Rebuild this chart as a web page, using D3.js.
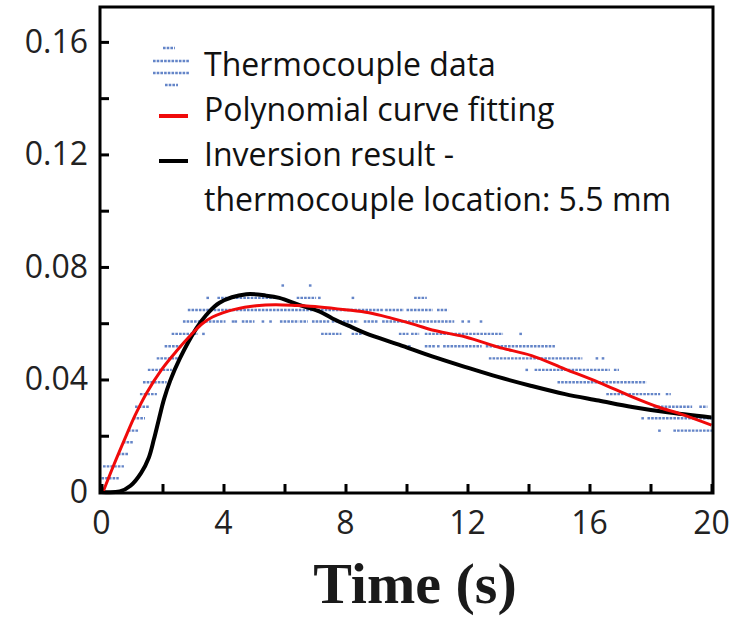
<!DOCTYPE html>
<html>
<head>
<meta charset="utf-8">
<script src="https://cdn.jsdelivr.net/npm/d3@7"></script>
<style>
  body { margin: 0; background: #fff; }
  svg { display: block; }
</style>
</head>
<body>
<svg id="chart" width="739" height="617"></svg>
<script>
// tick labels
let xTicks = [0, 4, 8, 12, 16, 20];
let xMinor = [0, 2, 4, 6, 8, 10, 12, 14, 16, 18, 20];
let yTicks = [0, 0.04, 0.08, 0.12, 0.16];
let yMinor = [0, 0.02, 0.04, 0.06, 0.08, 0.1, 0.12, 0.14, 0.16];

// thermocouple readings sit on discrete levels
let tcLevels = [0, 0.0049, 0.0091, 0.0135, 0.0177, 0.0218, 0.0262, 0.0303, 0.0348,
    0.039, 0.0434, 0.0475, 0.0518, 0.0562, 0.0606, 0.0647, 0.069, 0.0734];
// runs of samples: [level index, start time, end time]
let tcRuns = [
    [1, 0.0, 0.5], [2, 0.05, 0.67], [3, 0.54, 0.83], [4, 0.7, 0.96],
    [5, 0.87, 1.16], [5, 18.25, 18.3], [5, 18.75, 20],
    [6, 1.03, 1.36], [6, 17.7, 17.75], [6, 17.9, 19.95],
    [7, 1.1, 1.52], [7, 18.1, 19.3], [7, 19.6, 19.8],
    [8, 1.26, 1.75], [8, 16.55, 18.25], [8, 18.5, 18.6],
    [9, 1.36, 2.07], [9, 14.95, 17.8],
    [10, 1.52, 2.24], [10, 13.9, 13.95], [10, 14.2, 16.6], [10, 16.8, 16.9],
    [11, 1.81, 2.5], [11, 12.7, 15.7], [11, 16.2, 16.25], [11, 16.4, 16.45],
    [12, 2.07, 2.56], [12, 10.05, 10.1], [12, 10.6, 10.9], [12, 11.0, 11.05],
    [12, 11.2, 12.4], [12, 12.6, 14.8],
    [13, 2.3, 3.1], [13, 3.3, 3.35], [13, 7.2, 7.8], [13, 8.2, 8.5], [13, 9.75, 10.0],
    [13, 10.15, 10.35], [13, 10.6, 13.1], [13, 13.7, 13.75],
    [14, 2.67, 4.0], [14, 4.27, 4.3], [14, 4.36, 4.4], [14, 4.6, 4.95], [14, 5.25, 5.3],
    [14, 5.5, 5.55], [14, 5.85, 6.4], [14, 6.5, 6.7], [14, 6.9, 7.4], [14, 7.55, 8.35],
    [14, 8.6, 9.0], [14, 9.2, 11.5], [14, 11.8, 11.85], [14, 12.0, 12.05], [14, 12.4, 12.45],
    [15, 2.83, 9.2], [15, 9.3, 9.85], [15, 10.0, 10.8], [15, 11.0, 11.3],
    [16, 3.44, 3.48], [16, 3.8, 5.8], [16, 6.4, 6.97], [16, 7.1, 7.15], [16, 8.2, 8.25],
    [16, 10.25, 10.6],
    [17, 5.9, 5.95], [17, 6.8, 6.85]
];

// polynomial curve fitting
let fitTime = [0.05, 0.4, 0.75, 1.1, 1.48, 1.97, 2.46, 2.99, 3.3, 3.64, 4.4, 5.07, 5.7, 6.4,
    7.14, 8, 8.77, 9.5, 10.3, 10.84, 11.94, 13.0, 14.1, 15.2, 16.3, 17.4, 18.25, 19.0, 20];
let fitValue = [0, 0.0095, 0.0185, 0.0272, 0.0352, 0.0435, 0.0501, 0.0565, 0.0598, 0.0622,
    0.065, 0.0662, 0.0666, 0.0663, 0.0658, 0.0648, 0.0637, 0.0618, 0.0594, 0.0576, 0.0551,
    0.0515, 0.0485, 0.0437, 0.039, 0.0338, 0.0302, 0.0277, 0.0238];

// inversion result at 5.5 mm
let invTime = [0, 0.6, 0.95, 1.3, 1.55, 1.72, 1.88, 2.05, 2.25, 2.57, 3.1, 3.44, 3.87, 4.75,
    5.4, 5.83, 6.5, 7.14, 7.57, 8.2, 8.67, 9.75, 10.84, 11.94, 13.0, 14.1, 15.2, 16.3, 17.4,
    18.5, 20];
let invValue = [0, 0.0002, 0.0022, 0.0068, 0.0122, 0.0188, 0.0258, 0.033, 0.0395, 0.0475, 0.058,
    0.063, 0.0673, 0.0703, 0.0698, 0.069, 0.0664, 0.0642, 0.0617, 0.0586, 0.0564, 0.0524,
    0.0482, 0.0444, 0.0409, 0.0377, 0.0348, 0.0325, 0.0302, 0.0284, 0.0265];

let legendItems = ["Thermocouple data", "Polynomial curve fitting", "Inversion result -",
    "thermocouple location: 5.5 mm"];

let svg = d3.select("#chart");
let box = {left: 100, right: 713, top: 7, bottom: 493};
let tcColor = "#4a70bf";

let x = d3.scaleLinear().domain([0, 20]).range([101.5, 711.5]);
let y = d3.scaleLinear().domain([0, 0.1724]).range([492, 7]);

// thermocouple data as short dotted runs
svg.append("g")
    .selectAll("line")
    .data(tcRuns)
    .enter()
    .append("line")
    .attr("x1", d => x(d[1]))
    .attr("x2", d => x(d[2]) + 2)
    .attr("y1", d => y(tcLevels[d[0]]))
    .attr("y2", d => y(tcLevels[d[0]]))
    .attr("stroke", tcColor)
    .attr("stroke-width", 2.4)
    .attr("stroke-dasharray", "2.6,1.1")
    .attr("opacity", 0.85);

let curveLine = d3.line()
    .x(d => x(d[0]))
    .y(d => y(d[1]))
    .curve(d3.curveCatmullRom.alpha(0.5));

svg.append("path")
    .attr("d", curveLine(d3.zip(invTime, invValue)))
    .attr("fill", "none")
    .attr("stroke", "#000")
    .attr("stroke-width", 4);

svg.append("path")
    .attr("d", curveLine(d3.zip(fitTime, fitValue)))
    .attr("fill", "none")
    .attr("stroke", "#f00a0a")
    .attr("stroke-width", 3);

// frame
svg.append("rect")
    .attr("x", box.left)
    .attr("y", box.top)
    .attr("width", box.right - box.left)
    .attr("height", box.bottom - box.top)
    .attr("fill", "none")
    .attr("stroke", "#000")
    .attr("stroke-width", 3);

// inward ticks
let xAxis = svg.append("g")
    .attr("transform", "translate(0," + box.bottom + ")")
    .call(d3.axisBottom(x).tickValues(xMinor).tickSize(-9).tickFormat(""));
let yAxis = svg.append("g")
    .attr("transform", "translate(" + box.left + ",0)")
    .call(d3.axisLeft(y).tickValues(yMinor).tickSize(-9).tickFormat(""));
[xAxis, yAxis].forEach(function (a) {
    a.select(".domain").remove();
    a.selectAll("line").attr("stroke", "#000").attr("stroke-width", 3);
});

// tick labels
svg.append("g")
    .selectAll("text")
    .data(xTicks)
    .enter()
    .append("text")
    .attr("x", d => x(d))
    .attr("y", 534)
    .attr("text-anchor", "middle")
    .attr("font-family", "Open Sans")
    .attr("font-size", 32)
    .attr("fill", "#222")
    .text(d => d);

svg.append("g")
    .selectAll("text")
    .data(yTicks)
    .enter()
    .append("text")
    .attr("x", 88)
    .attr("y", d => y(d) + 11)
    .attr("text-anchor", "end")
    .attr("font-family", "Open Sans")
    .attr("font-size", 32)
    .attr("fill", "#222")
    .text(d => d === 0 ? "0" : d.toFixed(2));

svg.append("text")
    .attr("x", 415)
    .attr("y", 603)
    .attr("text-anchor", "middle")
    .attr("font-family", "Liberation Serif")
    .attr("font-weight", "bold")
    .attr("font-size", 58)
    .attr("fill", "#1a1a1a")
    .text("Time (s)");

// legend
let legend = svg.append("g");
let symbolRows = [[163, 175, 48], [153, 190, 61], [153, 190, 73], [165, 178, 85]];
legend.selectAll("line.sym")
    .data(symbolRows)
    .enter()
    .append("line")
    .attr("x1", d => d[0])
    .attr("x2", d => d[1])
    .attr("y1", d => d[2])
    .attr("y2", d => d[2])
    .attr("stroke", tcColor)
    .attr("stroke-width", 2.4)
    .attr("stroke-dasharray", "2.6,1.1")
    .attr("opacity", 0.85);
legend.append("line")
    .attr("x1", 159).attr("x2", 188).attr("y1", 116).attr("y2", 116)
    .attr("stroke", "#f00a0a").attr("stroke-width", 4);
legend.append("line")
    .attr("x1", 159).attr("x2", 188).attr("y1", 161).attr("y2", 161)
    .attr("stroke", "#000").attr("stroke-width", 4);
legend.selectAll("text")
    .data(legendItems)
    .enter()
    .append("text")
    .attr("x", 204)
    .attr("y", (d, i) => 76 + i * 45)
    .attr("font-family", "Open Sans")
    .attr("font-size", 32)
    .attr("fill", "#111")
    .text(d => d);
</script>
</body>
</html>
